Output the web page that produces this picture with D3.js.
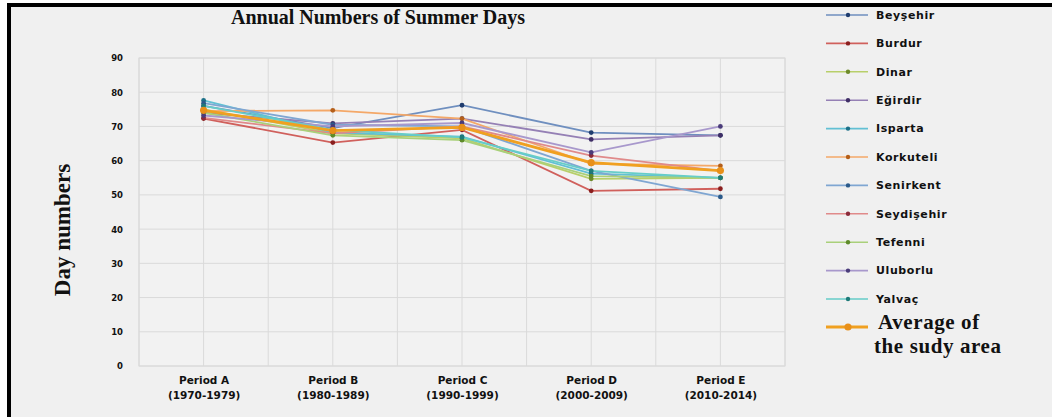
<!DOCTYPE html>
<html>
<head>
<meta charset="utf-8">
<script src="https://cdn.jsdelivr.net/npm/d3@7"></script>
<style>
  body { margin: 0; background: #fff; }
  svg text { fill: #111; }
</style>
</head>
<body>
<div id="chart"></div>
<script>
const width = 1052, height = 417;

// categories and tick labels
const periods = ["Period A", "Period B", "Period C", "Period D", "Period E"];
const years = ["(1970-1979)", "(1980-1989)", "(1990-1999)", "(2000-2009)", "(2010-2014)"];
const yTicks = [0, 10, 20, 30, 40, 50, 60, 70, 80, 90];

// series
const names = ["Beyşehir", "Burdur", "Dinar", "Eğirdir", "Isparta", "Korkuteli",
               "Senirkent", "Seydişehir", "Tefenni", "Uluborlu", "Yalvaç"];
const beysehir   = [76.0, 69.5, 76.2, 68.2, 67.4];
const burdur     = [72.3, 65.3, 69.0, 51.2, 51.8];
const dinar      = [75.0, 68.0, 66.5, 54.7, 55.0];
const egirdir    = [74.0, 70.9, 72.3, 66.2, 67.4];
const isparta    = [77.6, 68.2, 67.0, 56.2, 55.0];
const korkuteli  = [74.5, 74.7, 72.3, 59.1, 58.5];
const senirkent  = [76.8, 70.5, 70.0, 57.0, 49.4];
const seydisehir = [72.5, 68.0, 70.0, 61.5, 57.0];
const tefenni    = [74.0, 67.4, 66.0, 55.5, 55.0];
const uluborlu   = [73.2, 70.0, 71.0, 62.4, 70.0];
const yalvac     = [76.0, 69.0, 66.8, 57.0, 55.0];
const average    = [74.7, 68.8, 69.7, 59.4, 57.1];
const allSeries = [beysehir, burdur, dinar, egirdir, isparta, korkuteli,
                   senirkent, seydisehir, tefenni, uluborlu, yalvac];

const lineColors = ["#6f8fbf", "#d0605c", "#b8cf6a", "#9580b5", "#62c0d4", "#f4a868",
                    "#7fa6d2", "#e08a8a", "#a9d07a", "#a898cc", "#66cdc8"];
const dotColors  = ["#1f3c6e", "#8a1e1e", "#6d8a2a", "#3f2e66", "#1c7088", "#b45f1a",
                    "#2a5a8a", "#8a2a3a", "#5e8a2a", "#4a3c7a", "#1e7a78"];

const svg = d3.select("#chart").append("svg")
    .attr("width", width)
    .attr("height", height)
    .style("font-family", "'DejaVu Sans', sans-serif");

// outer frame
svg.append("rect")
    .attr("x", 9).attr("y", 5)
    .attr("width", 1060).attr("height", 430)
    .attr("fill", "#f0f0f0")
    .attr("stroke", "#000")
    .attr("stroke-width", 4);

const plot = {left: 139, right: 785, top: 58, bottom: 366};

const x = d3.scalePoint().domain(periods).range([plot.left, plot.right]).padding(0.5);
const y = d3.scaleLinear().domain([0, 90]).range([plot.bottom, plot.top]);
const step = x.step();

// gridlines
const g = svg.append("g");
g.append("rect")
    .attr("x", plot.left).attr("y", plot.top)
    .attr("width", plot.right - plot.left).attr("height", plot.bottom - plot.top)
    .attr("fill", "#f2f2f2").attr("stroke", "#d8d8d8");
g.selectAll(".hgrid").data(yTicks).join("line")
    .attr("x1", plot.left).attr("x2", plot.right)
    .attr("y1", d => y(d)).attr("y2", d => y(d))
    .attr("stroke", "#dadada");
const vx = d3.range(0, periods.length * 2 + 1).map(i => plot.left + i * step / 2);
g.selectAll(".vgrid").data(vx).join("line")
    .attr("x1", d => d).attr("x2", d => d)
    .attr("y1", plot.top).attr("y2", plot.bottom)
    .attr("stroke", "#dadada");

// y axis
const yAxis = svg.append("g")
    .attr("transform", `translate(${plot.left - 16},0)`)
    .call(d3.axisLeft(y).tickValues(yTicks).tickSize(0).tickPadding(0));
yAxis.select(".domain").remove();
yAxis.selectAll("text")
    .attr("dy", "0.35em")
    .style("font-size", "8.5px").style("font-weight", "bold")
    .style("font-family", "'DejaVu Sans', sans-serif").attr("fill", "#222");

// x axis
const xAxis = svg.append("g")
    .attr("transform", `translate(0,${plot.bottom})`)
    .call(d3.axisBottom(x).tickSize(0).tickPadding(0));
xAxis.select(".domain").remove();
xAxis.selectAll("text").remove();
xAxis.selectAll(".tick").append("text")
    .attr("y", 18).attr("text-anchor", "middle")
    .style("font-size", "10.5px").style("font-weight", "bold")
    .style("font-family", "'DejaVu Sans', sans-serif").attr("fill", "#222")
    .text(d => d);
xAxis.selectAll(".tick").append("text")
    .attr("y", 33).attr("text-anchor", "middle")
    .style("font-size", "10.5px").style("font-weight", "bold")
    .style("font-family", "'DejaVu Sans', sans-serif").attr("fill", "#222")
    .text((d, i) => years[i]);

// titles
svg.append("text")
    .attr("x", 378).attr("y", 24)
    .attr("text-anchor", "middle")
    .style("font-family", "'Liberation Serif', 'Times New Roman', serif")
    .style("font-weight", "bold").style("font-size", "20px")
    .text("Annual Numbers of Summer Days");

svg.append("text")
    .attr("transform", "translate(70,230) rotate(-90)")
    .attr("text-anchor", "middle")
    .style("font-family", "'Liberation Serif', 'Times New Roman', serif")
    .style("font-weight", "bold").style("font-size", "23px")
    .text("Day numbers");

// lines
const line = d3.line().x((d, i) => x(periods[i])).y(d => y(d));
const lines = svg.append("g");
allSeries.forEach((s, k) => {
  lines.append("path")
      .attr("d", line(s))
      .attr("fill", "none")
      .attr("stroke", lineColors[k])
      .attr("stroke-width", 1.8);
  lines.selectAll(null).data(s).join("circle")
      .attr("cx", (d, i) => x(periods[i]))
      .attr("cy", d => y(d))
      .attr("r", 2.4)
      .attr("fill", dotColors[k]);
});
lines.append("path")
    .attr("d", line(average))
    .attr("fill", "none")
    .attr("stroke", "#f0a020")
    .attr("stroke-width", 2.8);
lines.selectAll(null).data(average).join("circle")
    .attr("cx", (d, i) => x(periods[i]))
    .attr("cy", d => y(d))
    .attr("r", 3.6)
    .attr("fill", "#e8901a");

// legend
const legend = svg.append("g").attr("transform", "translate(826,0)");
names.forEach((n, k) => {
  const ly = 15 + k * 28.4;
  legend.append("line")
      .attr("x1", 0).attr("x2", 42).attr("y1", ly).attr("y2", ly)
      .attr("stroke", lineColors[k]).attr("stroke-width", 1.6);
  legend.append("circle")
      .attr("cx", 22).attr("cy", ly).attr("r", 2.2)
      .attr("fill", dotColors[k]);
  legend.append("text")
      .attr("x", 50).attr("y", ly).attr("dy", "0.35em")
      .style("font-size", "11px").style("font-weight", "bold")
      .style("letter-spacing", "0.6px")
      .text(n);
});
const avgY = 327;
legend.append("line")
    .attr("x1", 0).attr("x2", 42).attr("y1", avgY).attr("y2", avgY)
    .attr("stroke", "#f0a020").attr("stroke-width", 2.8);
legend.append("circle")
    .attr("cx", 22).attr("cy", avgY).attr("r", 3.6)
    .attr("fill", "#e8901a");
const avgText = legend.append("text")
    .style("font-family", "'Liberation Serif', 'Times New Roman', serif")
    .style("font-weight", "bold").style("font-size", "21px")
    .style("letter-spacing", "0.6px");
avgText.append("tspan").attr("x", 52).attr("y", 329).text("Average of");
avgText.append("tspan").attr("x", 48).attr("y", 353).text("the sudy area");
</script>
</body>
</html>
